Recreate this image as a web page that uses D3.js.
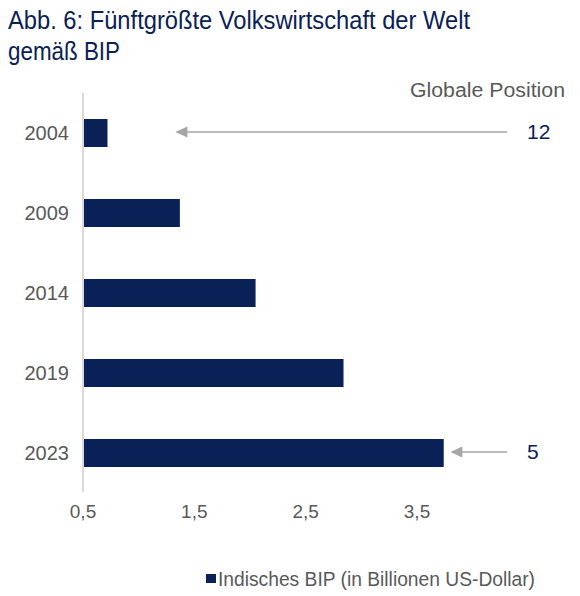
<!DOCTYPE html>
<html>
<head>
<meta charset="utf-8">
<script src="https://cdn.jsdelivr.net/npm/d3@7.9.0/dist/d3.min.js"></script>
<style>
  body { margin: 0; background: #fff; }
  svg { display: block; font-family: "Liberation Sans", Arial, sans-serif; }
</style>
</head>
<body>
<div id="chart"></div>
<script>
// data
const years = ['2004', '2009', '2014', '2019', '2023'];
const gdp = [0.72, 1.37, 2.05, 2.84, 3.74];
const xTicks = [0.5, 1.5, 2.5, 3.5];
const rankYears = ['2004', '2023'];
const ranks = ['12', '5'];
const arrowTips = [1.33, 3.80];
const arrowTail = 4.31;

const titleLines = ['Abb. 6: Fünftgrößte Volkswirtschaft der Welt', 'gemäß BIP'];
const legendLabel = 'Indisches BIP (in Billionen US-Dollar)';

const width = 580, height = 596;
const navy = '#0a2157';
const grey = '#595959';
const arrowGrey = '#a6a6a6';

const svg = d3.select('#chart').append('svg')
  .attr('width', width)
  .attr('height', height);

// title
svg.append('g').selectAll('text')
  .data(titleLines)
  .join('text')
  .attr('x', 8)
  .attr('y', (d, i) => 29 + i * 31)
  .attr('fill', navy)
  .attr('font-size', 25)
  .attr('textLength', (d, i) => i === 0 ? 462 : 112)
  .attr('lengthAdjust', 'spacingAndGlyphs')
  .text(d => d);

const x = d3.scaleLinear().domain([0.5, 3.5]).range([83, 417]);
const y = d3.scalePoint().domain(years).range([93, 493]).padding(0.5);
const barH = 28;

// vertical axis line
svg.append('line')
  .attr('x1', x(0.5)).attr('x2', x(0.5))
  .attr('y1', 93).attr('y2', 492)
  .attr('stroke', '#d9d9d9')
  .attr('stroke-width', 2);

// bars
svg.append('g').selectAll('rect')
  .data(years)
  .join('rect')
  .attr('x', x(0.5) + 1)
  .attr('y', d => y(d) - barH / 2)
  .attr('width', (d, i) => x(gdp[i]) - x(0.5) - 1)
  .attr('height', barH)
  .attr('fill', navy);

// year labels
svg.append('g').selectAll('text')
  .data(years)
  .join('text')
  .attr('x', 69)
  .attr('y', d => y(d) + 7)
  .attr('text-anchor', 'end')
  .attr('fill', grey)
  .attr('font-size', 20)
  .text(d => d);

// x tick labels
const fmt = d => d3.format('.1f')(d).replace('.', ',');
svg.append('g').selectAll('text')
  .data(xTicks)
  .join('text')
  .attr('x', d => x(d))
  .attr('y', 518)
  .attr('text-anchor', 'middle')
  .attr('fill', grey)
  .attr('font-size', 19)
  .text(fmt);

// header for ranks
svg.append('text')
  .attr('x', 565)
  .attr('y', 97)
  .attr('text-anchor', 'end')
  .attr('fill', grey)
  .attr('font-size', 20)
  .attr('textLength', 155)
  .attr('lengthAdjust', 'spacingAndGlyphs')
  .text('Globale Position');

// arrows and ranks
const ann = svg.append('g');
rankYears.forEach((yr, i) => {
  const yy = y(yr) - 1;
  const tip = x(arrowTips[i]);
  ann.append('line')
    .attr('x1', x(arrowTail)).attr('x2', tip + 10)
    .attr('y1', yy).attr('y2', yy)
    .attr('stroke', arrowGrey)
    .attr('stroke-width', 1.3);
  ann.append('path')
    .attr('d', `M${tip},${yy} L${tip + 12},${yy - 5.5} L${tip + 12},${yy + 5.5} Z`)
    .attr('fill', arrowGrey);
  ann.append('text')
    .attr('x', 527)
    .attr('y', yy + 7)
    .attr('fill', navy)
    .attr('font-size', 21)
    .text(ranks[i]);
});

// legend
svg.append('rect')
  .attr('x', 206).attr('y', 574)
  .attr('width', 10).attr('height', 9)
  .attr('fill', navy);
svg.append('text')
  .attr('x', 218)
  .attr('y', 586)
  .attr('fill', grey)
  .attr('font-size', 20)
  .attr('textLength', 317)
  .attr('lengthAdjust', 'spacingAndGlyphs')
  .text(legendLabel);
</script>
</body>
</html>
